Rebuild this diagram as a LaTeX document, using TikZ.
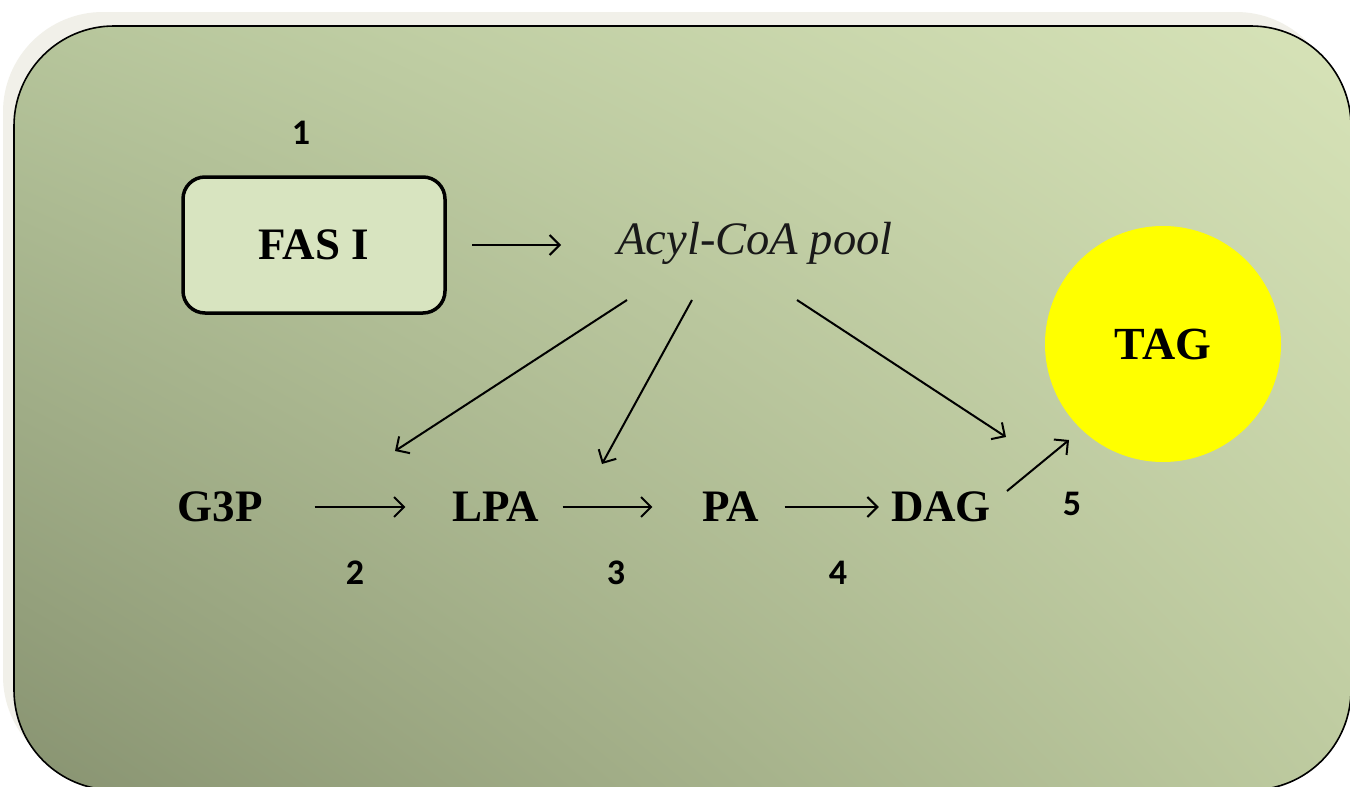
\documentclass[tikz,border=0pt]{standalone}
\usepackage{fontspec}
\setmainfont{Liberation Serif}
\newfontfamily\numfont{Carlito}
\usetikzlibrary{arrows.meta,shadings}

\definecolor{shadowgrey}{RGB}{241,240,233}
\definecolor{boxfill}{RGB}{216,228,192}
\definecolor{tl}{RGB}{182,197,155}
\definecolor{tr}{RGB}{215,227,184}
\definecolor{bl}{RGB}{136,147,113}
\definecolor{br}{RGB}{190,203,160}
\definecolor{tagyellow}{RGB}{255,255,0}

\tikzset{
  metab/.style={inner sep=0pt, font=\fontsize{45}{45}\selectfont\bfseries},
  stepnum/.style={inner sep=0pt, font=\fontsize{36}{36}\selectfont\numfont\bfseries},
  flow/.style={line width=2pt, -{Straight Barb[length=10pt,width=20pt,line width=2pt]}},
}

\begin{document}
\begin{tikzpicture}[x=1pt,y=-1pt]
  \useasboundingbox (0,0) rectangle (1350,787);
  \fill[white] (0,0) rectangle (1350,787);

  % panel shadow and panel
  \begin{scope}
    \clip (0,0) rectangle (1350,787);
    \fill[shadowgrey, rounded corners=100pt] (3,12) rectangle (1336,776);
    \shade[rounded corners=100pt, shading=bilinear interpolation,
           upper left=tl, upper right=tr,
           lower left=bl, lower right=br] (14,26) rectangle (1351,790);
    \draw[line width=1.6pt, rounded corners=100pt] (14,26) rectangle (1351,790);
  \end{scope}

  % FAS I box and the acyl-CoA pool
  \node[draw, line width=3.5pt, fill=boxfill, rounded corners=22pt,
        minimum width=262pt, minimum height=136pt,
        font=\fontsize{45}{45}\selectfont\bfseries] (fas) at (314,245) {FAS I};
  \node[stepnum] (n1) at (301,133) {1};
  \node[inner sep=0pt, text=black!90, font=\fontsize{46.5}{46.5}\selectfont\itshape]
        (acyl) at (755,243) {Acyl-CoA pool};

  % TAG droplet
  \node[circle, fill=tagyellow, minimum size=236pt, inner sep=0pt,
        font=\fontsize{46}{46}\selectfont\bfseries] (tag) at (1163,344) {TAG};

  % pathway intermediates
  \node[metab] (g3p) at (220,507) {G3P};
  \node[metab] (lpa) at (496,507) {LPA};
  \node[metab] (pa)  at (731,507) {PA};
  \node[metab] (dag) at (941,507) {DAG};

  % enzyme step numbers
  \node[stepnum] (n2) at (355,573) {2};
  \node[stepnum] (n3) at (616,573) {3};
  \node[stepnum] (n4) at (838,573) {4};
  \node[stepnum] (n5) at (1072,504) {5};

  % arrow end points
  \coordinate (fasout)  at (472,245);
  \coordinate (acylin)  at (561,245);
  \coordinate (acyl1)   at (627,300);
  \coordinate (acyl2)   at (692,300);
  \coordinate (acyl3)   at (797,300);
  \coordinate (toG3P)   at (395,451);
  \coordinate (toLPA)   at (602,464);
  \coordinate (toDAG)   at (1006,437);
  \coordinate (dagout)  at (1007,491);
  \coordinate (tagin)   at (1069,440);

  \draw[flow] (fasout) -- (acylin);
  \draw[flow, shorten <=52pt, shorten >=47pt] (g3p) -- (lpa);
  \draw[flow, shorten <=23pt, shorten >=50pt] (lpa) -- (pa);
  \draw[flow, shorten <=25pt, shorten >=12pt] (pa) -- (dag);
  \draw[flow] (acyl1) -- (toG3P);
  \draw[flow] (acyl2) -- (toLPA);
  \draw[flow] (acyl3) -- (toDAG);
  \draw[flow] (dagout) -- (tagin);
\end{tikzpicture}
\end{document}
